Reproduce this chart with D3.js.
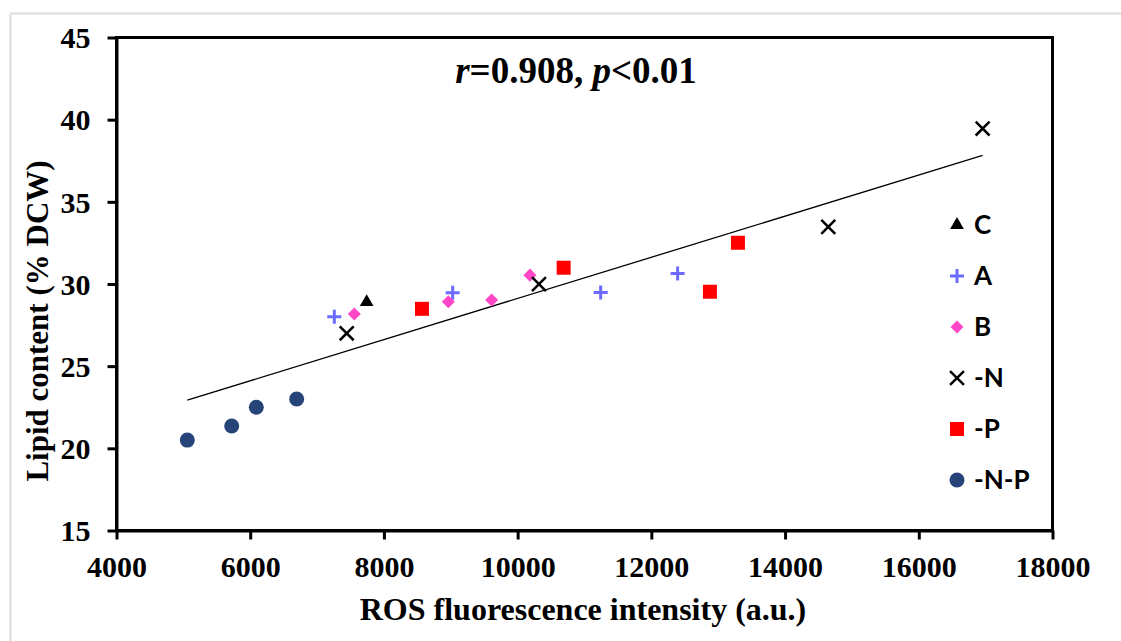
<!DOCTYPE html>
<html>
<head>
<meta charset="utf-8">
<script src="https://cdn.jsdelivr.net/npm/d3@7"></script>
<style>
  body { margin: 0; background: #fff; }
  svg { display: block; }
</style>
</head>
<body>
<svg id="chart" width="1121" height="641"></svg>
<script>
// Data: ROS intensity (a.u.) vs lipid content (% DCW)
const groupNames = ["C", "A", "B", "-N", "-P", "-N-P"];
const cPoints  = [[7742, 28.9]];
const aPoints  = [[7258, 28.0], [9028, 29.47], [11242, 29.49], [12393, 30.64]];
const bPoints  = [[7557, 28.17], [8963, 28.92], [9611, 29.02], [10184, 30.54]];
const nPoints  = [[7443, 27.0], [10319, 29.99], [14646, 33.48], [16955, 39.46]];
const pPoints  = [[8569, 28.49], [10688, 30.99], [12876, 29.53], [13295, 32.51]];
const npPoints = [[5059, 20.5], [5723, 21.36], [6091, 22.5], [6695, 23.0]];
const xTicks = [4000, 6000, 8000, 10000, 12000, 14000, 16000, 18000];
const yTicks = [15, 20, 25, 30, 35, 40, 45];

const series = [
  { name: groupNames[0], pts: cPoints,  type: d3.symbolTriangle, size: 82,  fill: "#000000" },
  { name: groupNames[1], pts: aPoints,  type: d3.symbolPlus,     size: 66,  stroke: "#6b6bff", sw: 3 },
  { name: groupNames[2], pts: bPoints,  type: d3.symbolSquare,   size: 85,  fill: "#ff47c8", rot: 45 },
  { name: groupNames[3], pts: nPoints,  type: d3.symbolTimes,    size: 128, stroke: "#000000", sw: 2.5 },
  { name: groupNames[4], pts: pPoints,  type: d3.symbolSquare,   size: 196, fill: "#ff0000" },
  { name: groupNames[5], pts: npPoints, type: d3.symbolCircle,   size: 177, fill: "#264478" }
];

const svg = d3.select("#chart");
const W = 1121, H = 641;
const pLeft = 116.5, pRight = 1052.5, pTop = 37.5, pBottom = 530.5;

// faint page frame of the source figure
svg.append("line").attr("x1", 10.5).attr("x2", 10.5).attr("y1", 13.5).attr("y2", H)
  .attr("stroke", "#dcdcdc").attr("stroke-width", 2);
svg.append("line").attr("x1", 10).attr("x2", W).attr("y1", 13.5).attr("y2", 13.5)
  .attr("stroke", "#dcdcdc").attr("stroke-width", 2);

const x = d3.scaleLinear().domain([4000, 18000]).range([pLeft, pRight]);
const y = d3.scaleLinear().domain([15, 45]).range([pBottom, pTop]);

// plot frame
svg.append("rect")
  .attr("x", pLeft).attr("y", pTop)
  .attr("width", pRight - pLeft).attr("height", pBottom - pTop)
  .attr("fill", "none").attr("stroke", "#000").attr("stroke-width", 3);

const tickFont = "bold 30px 'Liberation Serif', 'Times New Roman', serif";

const xAxis = svg.append("g")
  .attr("transform", `translate(0,${pBottom})`)
  .call(d3.axisBottom(x).tickValues(xTicks).tickFormat(d3.format("d")).tickSize(9).tickSizeOuter(0).tickPadding(16));
const yAxis = svg.append("g")
  .attr("transform", `translate(${pLeft},0)`)
  .call(d3.axisLeft(y).tickValues(yTicks).tickSize(9).tickSizeOuter(0).tickPadding(17));

[xAxis, yAxis].forEach(g => {
  g.select(".domain").attr("stroke-width", 3);
  g.selectAll(".tick line").attr("stroke-width", 3);
  g.selectAll(".tick text").style("font", tickFont).attr("fill", "#000");
});
yAxis.selectAll(".tick text").attr("dy", "0.34em");

// axis titles
svg.append("text")
  .attr("x", 583).attr("y", 620)
  .attr("text-anchor", "middle")
  .style("font", "bold 32px 'Liberation Serif', 'Times New Roman', serif")
  .text("ROS fluorescence intensity (a.u.)");

svg.append("text")
  .attr("transform", `translate(48,321) rotate(-90)`)
  .attr("text-anchor", "middle")
  .style("font", "bold 31px 'Liberation Serif', 'Times New Roman', serif")
  .text("Lipid content (% DCW)");

// correlation label
const lbl = svg.append("text")
  .attr("x", 576).attr("y", 83)
  .attr("text-anchor", "middle")
  .style("font", "bold 37px 'Liberation Serif', 'Times New Roman', serif");
lbl.append("tspan").attr("font-style", "italic").text("r");
lbl.append("tspan").text("=0.908, ");
lbl.append("tspan").attr("font-style", "italic").text("p");
lbl.append("tspan").text("<0.01");

// linear trend over all points
const all = series.flatMap(s => s.pts);
const mx = d3.mean(all, d => d[0]), my = d3.mean(all, d => d[1]);
const slope = d3.sum(all, d => (d[0] - mx) * (d[1] - my)) / d3.sum(all, d => (d[0] - mx) ** 2);
const x0 = d3.min(all, d => d[0]), x1 = d3.max(all, d => d[0]);
svg.append("line")
  .attr("x1", x(x0)).attr("y1", y(my + slope * (x0 - mx)))
  .attr("x2", x(x1)).attr("y2", y(my + slope * (x1 - mx)))
  .attr("stroke", "#000").attr("stroke-width", 1.3);

function drawMarker(g, s) {
  g.append("path")
    .attr("d", d3.symbol().type(s.type).size(s.size)())
    .attr("transform", s.rot ? `rotate(${s.rot})` : null)
    .attr("fill", s.fill || "none")
    .attr("stroke", s.stroke || "none")
    .attr("stroke-width", s.sw || 0);
}

// points
series.forEach(s => {
  svg.append("g").selectAll("g")
    .data(s.pts)
    .join("g")
    .attr("transform", d => `translate(${x(d[0])},${y(d[1])})`)
    .each(function() { drawMarker(d3.select(this), s); });
});

// legend
const legend = svg.append("g").attr("transform", "translate(957,225)");
series.forEach((s, i) => {
  const row = legend.append("g").attr("transform", `translate(0,${i * 51})`);
  drawMarker(row, s);
  row.append("text")
    .attr("x", 17).attr("y", 0).attr("dy", "0.36em")
    .style("font", "bold 26px Lato, 'Open Sans', sans-serif")
    .text(s.name);
});
</script>
</body>
</html>
